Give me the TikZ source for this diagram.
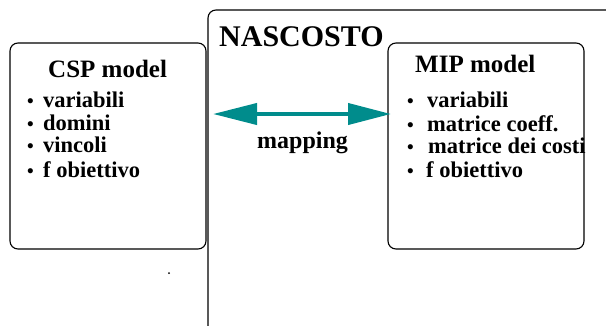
\documentclass[tikz,border=0pt]{standalone}
\usepackage{fontspec}
\setmainfont{Liberation Serif}
\usetikzlibrary{arrows.meta}
\definecolor{tealarrow}{RGB}{0,140,140}
\definecolor{boxline}{RGB}{0,0,0}
\tikzset{
  modelbox/.style={draw=boxline, line width=1.1pt, rounded corners=8pt, minimum width=196pt, minimum height=206pt, inner sep=0pt},
  titletext/.style={anchor=base west, inner sep=0pt, font=\bfseries\fontsize{25}{28}\selectfont},
  itemtext/.style={anchor=base west, inner sep=0pt, font=\bfseries\fontsize{22.5}{24}\selectfont},
  bullettext/.style={anchor=base west, inner sep=0pt, font=\bfseries\fontsize{19}{20}\selectfont},
}
\begin{document}
\begin{tikzpicture}[x=1pt,y=-1pt]
\useasboundingbox (0,0) rectangle (606,325);
% NASCOSTO frame (cut off at right and bottom)
\draw[boxline, line width=1.1pt, rounded corners=8pt] (208,330) -- (208,10) -- (612,10);
\node[anchor=base west, inner sep=0pt, font=\bfseries\fontsize{30}{34}\selectfont] (nas) at (219,46) {NASCOSTO};
% model boxes
\node[modelbox] (csp) at (108,146) {};
\node[modelbox] (mip) at (486,146) {};
% CSP contents
\node[titletext] (csptitle) at (48,77) {CSP model};
\foreach \t/\y [count=\i] in {variabili/107, domini/130, vincoli/152, f obiettivo/177}{
  \node[bullettext] (cspb\i) at (27,\y) {•};
  \node[itemtext] (cspi\i) at (43,\y) {\t};
}
% MIP contents
\node[titletext] (miptitle) at (415,72) {MIP model};
\foreach \t/\y/\xx [count=\i] in {variabili/107/427, matrice coeff./131/427, matrice dei costi/153/428, f obiettivo/177/426}{
  \node[bullettext] (mipb\i) at (407,\y) {•};
  \node[itemtext] (mipi\i) at (\xx,\y) {\t};
}
% mapping arrow
\coordinate (la) at (213,114);
\coordinate (ra) at (391,114);
\draw[tealarrow, line width=4pt, {Triangle[length=44pt,width=21pt]}-{Triangle[length=43pt,width=21pt]}] (la) -- (ra);
\node[anchor=base west, inner sep=0pt, font=\bfseries\fontsize{24}{27}\selectfont] (map) at (257,148) {mapping};
% stray dot
\fill[boxline] (169,273) circle (1pt);
\end{tikzpicture}
\end{document}
